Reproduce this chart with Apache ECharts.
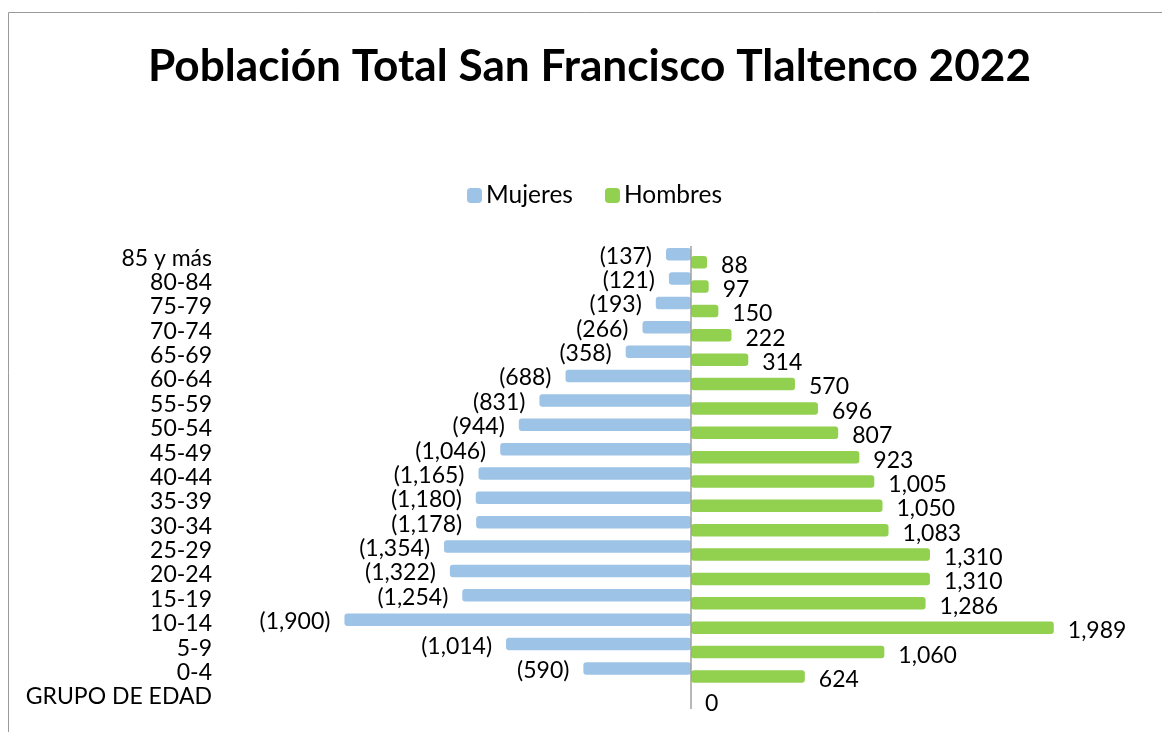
<!DOCTYPE html>
<html>
<head>
<meta charset="utf-8">
<script src="https://cdn.jsdelivr.net/npm/echarts@6/dist/echarts.min.js"></script>
<style>
html,body{margin:0;padding:0;background:#fff;}
#chart{width:1162px;height:732px;}
</style>
</head>
<body>
<div id="chart"></div>
<script>
const categories = ['GRUPO DE EDAD','0-4','5-9','10-14','15-19','20-24','25-29','30-34','35-39','40-44','45-49','50-54','55-59','60-64','65-69','70-74','75-79','80-84','85 y más'];
const mujeres = [null,-590,-1014,-1900,-1254,-1322,-1354,-1178,-1180,-1165,-1046,-944,-831,-688,-358,-266,-193,-121,-137];
const hombres = [0,624,1060,1989,1286,1310,1310,1083,1050,1005,923,807,696,570,314,222,150,97,88];
const titleText = 'Población Total San Francisco Tlaltenco 2022';

const FONT = 'Lato';
const fmt = v => Math.abs(v).toLocaleString('en-US');

const chart = echarts.init(document.getElementById('chart'), null, {renderer:'canvas'});
chart.setOption({
  animation:false,
  backgroundColor:'#fff',
  textStyle:{fontFamily:FONT},
  graphic:[{
    type:'rect', shape:{x:8.5,y:12.5,width:1300,height:900},
    style:{fill:'none',stroke:'#9a9a9a',lineWidth:1}, silent:true, z:0
  }],
  title:{
    text:titleText, left:143, top:40,
    textStyle:{fontFamily:FONT,fontSize:44.2,fontWeight:'bold',color:'#000'}
  },
  legend:{
    top:178, left:462, itemWidth:15, itemHeight:15, itemGap:32,
    icon:'roundRect',
    textStyle:{fontFamily:FONT,fontSize:24.5,color:'#000',padding:[0,0,0,-1]},
    data:['Mujeres','Hombres']
  },
  grid:{left:235,right:15,top:246,bottom:23,containLabel:false},
  xAxis:{type:'value',min:-2500,max:2500,show:false},
  yAxis:{
    type:'category', data:categories, position:'left',
    axisLine:{show:false,onZero:false}, axisTick:{show:false}, splitLine:{show:false},
    axisLabel:{fontFamily:FONT,fontSize:23,color:'#000',margin:23,interval:0}
  },
  series:[
    {
      name:'Mujeres', type:'bar', data:mujeres, barWidth:12.5, barGap:'-36%',
      itemStyle:{color:'#9DC3E6',borderRadius:3},
      label:{show:true,position:'left',distance:14,offset:[0,2],
        fontFamily:FONT,fontSize:23,color:'#000',
        formatter:p=>p.value==null?'':'('+fmt(p.value)+')'}
    },
    {
      name:'Hombres', type:'bar', data:hombres, barWidth:12.5,
      itemStyle:{color:'#92D050',borderRadius:3},
      label:{show:true,position:'right',distance:14,offset:[0,3],
        fontFamily:FONT,fontSize:23,color:'#000',
        formatter:p=>fmt(p.value)},
      markLine:{
        silent:true, symbol:'none', label:{show:false},
        lineStyle:{color:'#a0a0a0',width:1.5,type:'solid'},
        data:[{xAxis:0}]
      }
    }
  ]
});
</script>
</body>
</html>
